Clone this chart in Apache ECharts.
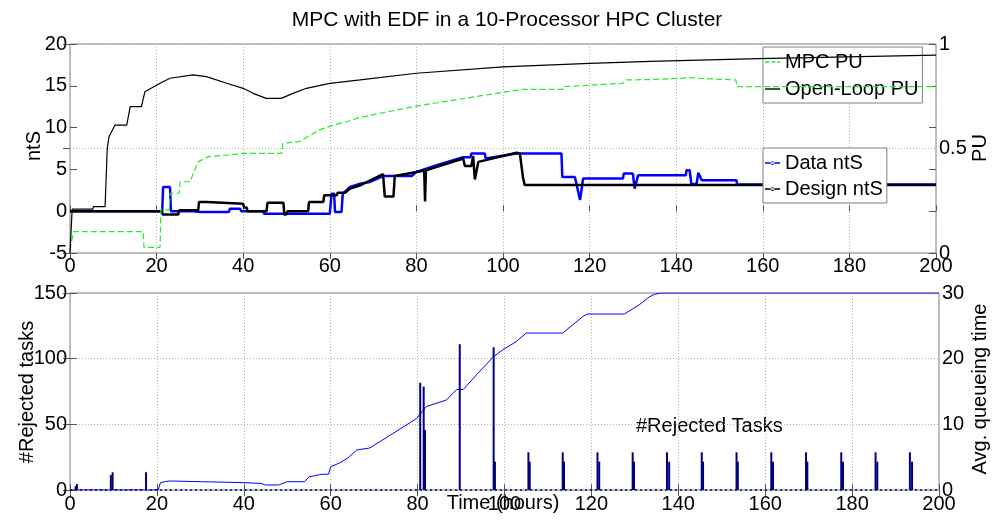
<!DOCTYPE html>
<html><head><meta charset="utf-8">
<script src="https://cdn.jsdelivr.net/npm/echarts@6/dist/echarts.min.js"></script>
<style>html,body{margin:0;padding:0;background:#fff}#c{width:992px;height:521px}</style>
</head><body><div id="c"></div>
<script>
// ---------- data (time in hours) ----------
const openLoopPU = [[0,0],[0.5,0.21],[5.3,0.21],[5.4,0.222],[8.1,0.222],[8.6,0.5],[9,0.556],[10.4,0.612],[13.1,0.612],[13.9,0.70],[16.5,0.70],[17.3,0.772],[20.8,0.812],[23.1,0.836],[28.4,0.852],[31.5,0.844],[36.2,0.812],[40,0.788],[42.3,0.764],[45.3,0.74],[48.8,0.74],[51.5,0.764],[54.6,0.788],[60,0.812],[67,0.828],[80,0.86],[100,0.891],[120,0.907],[134,0.917],[159,0.93],[200,0.947]];
const mpcPU = [[0,0.014],[0.8,0.102],[16.9,0.102],[17.1,0.027],[20.8,0.027],[21,0.206],[22.9,0.206],[23.1,0.286],[25.2,0.286],[25.4,0.341],[27.7,0.341],[29.6,0.437],[32,0.461],[36.4,0.469],[40.2,0.477],[48.9,0.477],[49.2,0.525],[53,0.533],[57.6,0.589],[60.8,0.612],[63.9,0.628],[67,0.649],[80,0.703],[100,0.769],[104.6,0.783],[113.8,0.783],[114,0.796],[127.7,0.812],[128.5,0.828],[134,0.83],[141.5,0.836],[142.6,0.84],[145.3,0.836],[153.8,0.828],[154,0.796],[200,0.796]];
const dataNtS = [[0,0],[21.3,0],[21.5,2.9],[23.1,2.9],[23.3,0],[28.5,0],[30,-0.1],[36.7,-0.1],[36.9,0.3],[39.3,0.3],[39.5,0],[44.6,0],[44.8,-0.3],[60,-0.3],[60.4,2.1],[61,2.1],[61.2,-0.1],[62.7,-0.1],[63,2.1],[64.7,2.9],[67,3.3],[69.3,3.5],[72.3,4.2],[78.9,4.2],[80,4.7],[84.7,5.5],[90.8,6.45],[92.5,6.45],[92.7,6.9],[95.8,6.9],[96,6.3],[103.1,6.9],[113.5,6.9],[113.7,4.1],[116.6,4.1],[117.8,1.35],[118.5,3.9],[127.7,3.9],[127.9,4.5],[130,4.5],[130.4,2.7],[131.2,4.3],[142.2,4.3],[142.4,4.9],[143.1,4.9],[143.5,3.25],[144.7,3.25],[145.1,4.6],[145.5,4.6],[145.9,3.7],[153.9,3.7],[154.1,3.2],[200,3.2]];
const designNtS = [[0,0],[21.2,0],[21.4,-0.4],[25,-0.4],[25.2,0.1],[29.6,0.1],[29.8,1.1],[31.6,1.1],[31.8,0.9],[40,0.9],[40.2,0.45],[40.8,0.45],[41,0],[45.4,0],[45.6,1.0],[49.3,1.0],[49.5,-0.4],[50,-0.4],[50.2,0],[55,0],[55.2,1.1],[58.5,1.1],[58.7,1.9],[61.6,1.9],[61.8,2.2],[63.5,2.2],[64.7,2.7],[67,3.1],[72.3,4.45],[72.7,1.75],[74.7,1.75],[75,4.2],[80,4.7],[81.8,4.85],[82,1.15],[82.2,4.9],[90.8,6.3],[91.2,5.4],[92.7,5.4],[93.1,6.6],[93.5,3.8],[94.3,5.9],[103.1,7.0],[103.9,6.9],[104.6,4.1],[105,3.13],[200,3.13]];
const avgQueueing = [[0,0],[20.3,0],[20.8,1.1],[22,1.3],[23,1.37],[30,1.27],[40,1.12],[44,1.0],[45,0.76],[48,0.76],[50,1.27],[54,1.27],[55,2.0],[58,2.4],[59.5,2.4],[60,3.55],[62,4.1],[64,4.9],[66,6.1],[69,6.4],[74.3,8.6],[79.8,10.9],[81,11.9],[82,12.7],[86.6,13.7],[89,15.3],[90.5,15.3],[93.5,17.5],[97.3,20.2],[99.5,21.3],[102.7,22.6],[105,23.9],[113.4,23.9],[118,26.4],[119,26.8],[127.6,26.8],[131,28.2],[133.3,29.4],[134.5,29.8],[136,30],[200,30]];
const rejectedTasks = [[1.3,3],[1.6,4.5],[9.4,11.4],[9.8,13.5],[17.5,13.5],[80.6,81.7],[81.4,78.7],[81.7,45.7],[89.7,111],[97.5,108.7],[97.8,21.6],[105.5,28.7],[105.8,21.6],[113.4,28.7],[113.7,21.6],[121.4,28.7],[121.8,21.6],[129.5,28.7],[129.8,21.6],[137.4,28.7],[137.9,21.6],[145.4,28.7],[145.7,21.6],[153.4,28.7],[153.7,21.6],[161.4,28.7],[161.8,21.6],[169.4,28.7],[169.7,21.6],[177.5,28.7],[177.9,21.6],[185.4,28.7],[185.8,21.6],[193.3,28.7],[193.8,21.6]];

const FONT = '"Liberation Sans", Arial, Helvetica, sans-serif';
const FS = 20;
const BORDER = '#808080';
const GRIDC = '#b4b4b4';
const GREEN = '#22ee22';

const ICON_SOLID = 'path://M0,0h16v1.5h-16z';
const ICON_DASH = 'path://M0,0h5v1.5h-5z M7,0h4v1.5h-4z M13,0h3v1.5h-3z';
const ICON_DOT = 'path://M0,1.3h16v1.6h-16z M6,2.1a2,2 0 1,0 4,0a2,2 0 1,0 -4,0z';

const chart = echarts.init(document.getElementById('c'), null, {renderer: 'canvas'});

function xAx(grid, pos, labels) {
  return {
    type: 'value', gridIndex: grid, position: pos, min: 0, max: 200, interval: 20,
    axisLine: {show: false},
    axisTick: {show: true, inside: true, length: 6, lineStyle: {color: '#555'}},
    axisLabel: {show: labels, color: '#000', fontSize: FS, fontFamily: FONT, margin: grid === 0 ? 3 : 4},
    splitLine: {show: labels, lineStyle: {color: GRIDC, type: [1, 2], width: 1}}
  };
}
function yAx(grid, pos, min, max, interval, labels, split) {
  return {
    type: 'value', gridIndex: grid, position: pos, min: min, max: max, interval: interval,
    axisLine: {show: false},
    axisTick: {show: true, inside: true, length: 7, lineStyle: {color: '#555'}},
    axisLabel: {show: labels, color: '#000', fontSize: FS, fontFamily: FONT, margin: 3},
    splitLine: {show: split, lineStyle: {color: GRIDC, type: [1, 2], width: 1}}
  };
}

const option = {
  animation: false,
  backgroundColor: '#fff',
  textStyle: {fontFamily: FONT},
  grid: [
    {left: 70, top: 44, width: 866, height: 209, show: true, borderColor: BORDER, borderWidth: 1, containLabel: false, outerBoundsMode: 'none'},
    {left: 70, top: 293, width: 869, height: 197, show: true, borderColor: BORDER, borderWidth: 1, containLabel: false, outerBoundsMode: 'none'}
  ],
  xAxis: [xAx(0, 'bottom', true), xAx(0, 'top', false), xAx(1, 'bottom', true), xAx(1, 'top', false)],
  yAxis: [
    yAx(0, 'left', -5, 20, 5, true, false),
    yAx(0, 'right', 0, 1, 0.5, true, true),
    yAx(0, 'right', -5, 20, 5, false, false),
    yAx(1, 'left', 0, 150, 50, true, true),
    yAx(1, 'right', 0, 30, 10, true, false)
  ],
  legend: [
    {
      data: [{name: 'MPC PU', icon: ICON_DASH}, {name: 'Open-Loop PU', icon: ICON_SOLID}],
      orient: 'vertical', left: 763, top: 47,
      backgroundColor: '#fff', borderColor: BORDER, borderWidth: 1, padding: [5, 4, 4, 2],
      itemGap: 7, itemWidth: 15, itemHeight: 1.5, selectedMode: false,
      textStyle: {fontSize: FS, fontFamily: FONT, color: '#000'}
    },
    {
      data: [{name: 'Data ntS', icon: ICON_DOT}, {name: 'Design ntS', icon: ICON_DOT}],
      orient: 'vertical', left: 763, top: 148,
      backgroundColor: '#fff', borderColor: BORDER, borderWidth: 1, padding: [5, 4, 4, 2],
      itemGap: 6, itemWidth: 15, itemHeight: 4, selectedMode: false,
      textStyle: {fontSize: FS, fontFamily: FONT, color: '#000'}
    }
  ],
  series: [
    {name: 'Data ntS', type: 'line', xAxisIndex: 0, yAxisIndex: 0, data: dataNtS,
     symbol: 'none', color: '#0000ff', itemStyle: {color: '#0000ff'},
     lineStyle: {color: '#0000ff', width: 2.5}, z: 2},
    {name: 'Design ntS', type: 'line', xAxisIndex: 0, yAxisIndex: 0, data: designNtS,
     symbol: 'none', color: '#000', itemStyle: {color: '#000'},
     lineStyle: {color: '#000', width: 2.5}, z: 3},
    {name: 'MPC PU', type: 'line', xAxisIndex: 0, yAxisIndex: 1, data: mpcPU,
     symbol: 'none', color: GREEN, itemStyle: {color: GREEN},
     lineStyle: {color: GREEN, width: 1.2, type: [6, 3]}, z: 4},
    {name: 'Open-Loop PU', type: 'line', xAxisIndex: 0, yAxisIndex: 1, data: openLoopPU,
     symbol: 'none', color: '#000', itemStyle: {color: '#000'},
     lineStyle: {color: '#000', width: 1.2}, z: 4},
    {name: 'Avg queueing', type: 'line', xAxisIndex: 2, yAxisIndex: 4, data: avgQueueing,
     symbol: 'none', color: '#0000ff',
     lineStyle: {color: '#0000ff', width: 1}, z: 2},
    {name: 'Rejected', type: 'bar', xAxisIndex: 2, yAxisIndex: 3, data: rejectedTasks,
     barWidth: 2, itemStyle: {color: '#00007f'}, z: 3,
     markLine: {silent: true, symbol: 'none', label: {show: false},
       lineStyle: {color: '#00007f', type: [2, 3], width: 1.5},
       data: [{yAxis: 0}]}}
  ],
  graphic: [
    {type: 'text', x: 507, y: 20, style: {text: 'MPC with EDF in a 10-Processor HPC Cluster', font: '21px ' + FONT, fill: '#000', textAlign: 'center', textVerticalAlign: 'middle'}},
    {type: 'text', x: 34, y: 146, rotation: Math.PI / 2, style: {text: 'ntS', font: '20px ' + FONT, fill: '#000', textAlign: 'center', textVerticalAlign: 'middle'}},
    {type: 'text', x: 980, y: 148, rotation: Math.PI / 2, style: {text: 'PU', font: '20px ' + FONT, fill: '#000', textAlign: 'center', textVerticalAlign: 'middle'}},
    {type: 'text', x: 27, y: 392, rotation: Math.PI / 2, style: {text: '#Rejected tasks', font: '20px ' + FONT, fill: '#000', textAlign: 'center', textVerticalAlign: 'middle'}},
    {type: 'text', x: 980, y: 389, rotation: Math.PI / 2, style: {text: 'Avg. queueing time', font: '20px ' + FONT, fill: '#000', textAlign: 'center', textVerticalAlign: 'middle'}},
    {type: 'text', x: 503, y: 503, style: {text: 'Time (hours)', font: '20px ' + FONT, fill: '#000', textAlign: 'center', textVerticalAlign: 'middle'}},
    {type: 'text', x: 636, y: 426, style: {text: '#Rejected Tasks', font: '20px ' + FONT, fill: '#000', textAlign: 'left', textVerticalAlign: 'middle'}}
  ]
};
chart.setOption(option);
</script></body></html>
